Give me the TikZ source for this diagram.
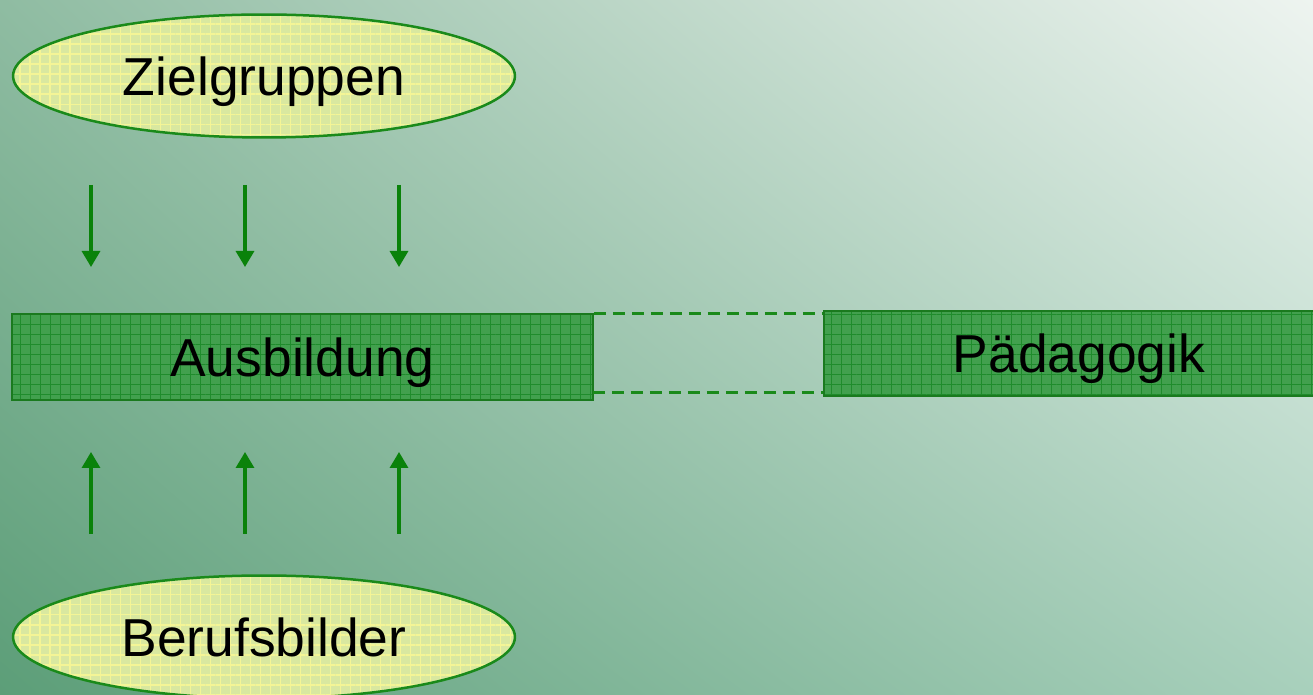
\documentclass[tikz,border=0pt]{standalone}
\usepackage{fontspec}
\setmainfont{Liberation Sans}
\usetikzlibrary{shapes.geometric,arrows.meta,patterns.meta,shadings}

\definecolor{bgLL}{HTML}{5C9E78}
\definecolor{bgUL}{HTML}{8FBCA2}
\definecolor{bgUR}{HTML}{EEF4F0}
\definecolor{bgLR}{HTML}{A8D0BC}
\definecolor{boxfill}{HTML}{42A04E}
\definecolor{boxgrid}{HTML}{1F8C2C}
\definecolor{boxedge}{HTML}{1A7A1E}
\definecolor{ovalfill}{HTML}{D9E8A0}
\definecolor{ovalgrid}{HTML}{F4F596}
\definecolor{ovaledge}{HTML}{1A8A1A}
\definecolor{arrowgreen}{HTML}{0A820A}

\tikzset{
  oval/.style={ellipse, draw=ovaledge, line width=0.05cm, inner sep=0pt,
    minimum width=10.04cm, minimum height=2.46cm,
    preaction={fill=ovalfill},
    preaction={pattern={Hatch[angle=0,distance=5.7pt,line width=0.7pt]}, pattern color=ovalgrid},
    font=\fontsize{30.4}{36}\selectfont, text height=21.9pt, text depth=0pt},
  topicbox/.style={rectangle, draw=boxedge, line width=0.04cm, inner sep=0pt,
    preaction={fill=boxfill},
    preaction={pattern={Hatch[angle=0,distance=5.7pt,line width=0.6pt]}, pattern color=boxgrid},
    font=\fontsize{30.4}{36}\selectfont, text height=21.9pt, text depth=0pt},
  flow/.style={draw=arrowgreen, line width=0.065cm,
    -{Triangle[width=0.36cm,length=0.32cm]}},
  linkline/.style={draw=ovaledge, line width=0.06cm, dash pattern=on 0.24cm off 0.14cm}
}

\begin{document}
\begin{tikzpicture}[x=0.02cm, y=-0.02cm]
  % canvas and background
  \useasboundingbox (0,0) rectangle (1313,695);
  \clip (0,0) rectangle (1313,695);
  \shade[lower left=bgLL, upper left=bgUL, upper right=bgUR, lower right=bgLR]
    (0,0) rectangle (1313,695);

  % main elements
  \node[oval] (ziel) at (264,76) {Zielgruppen};
  \node[oval] (beruf) at (264,637) {Berufsbilder};
  \node[topicbox, minimum width=11.62cm, minimum height=1.72cm] (aus) at (302.5,357) {Ausbildung};
  \node[topicbox, minimum width=10.2cm, minimum height=1.7cm] (paed) at (1079,353.5) {Pädagogik};

  % influence arrows from above and below
  \foreach \x [count=\i] in {91,245,399} {
    \coordinate (ds\i) at (\x,185);
    \coordinate (de\i) at (\x,267);
    \draw[flow] (ds\i) -- (de\i);
    \coordinate (us\i) at (\x,534);
    \coordinate (ue\i) at (\x,452);
    \draw[flow] (us\i) -- (ue\i);
  }

  % dashed link between the two boxes
  \coordinate (lt) at (aus.north east);
  \coordinate (lb) at (593,393);
  \draw[linkline] (lt) -- (lt -| paed.west);
  \draw[linkline] (lb) -- (lb -| paed.west);
\end{tikzpicture}
\end{document}
